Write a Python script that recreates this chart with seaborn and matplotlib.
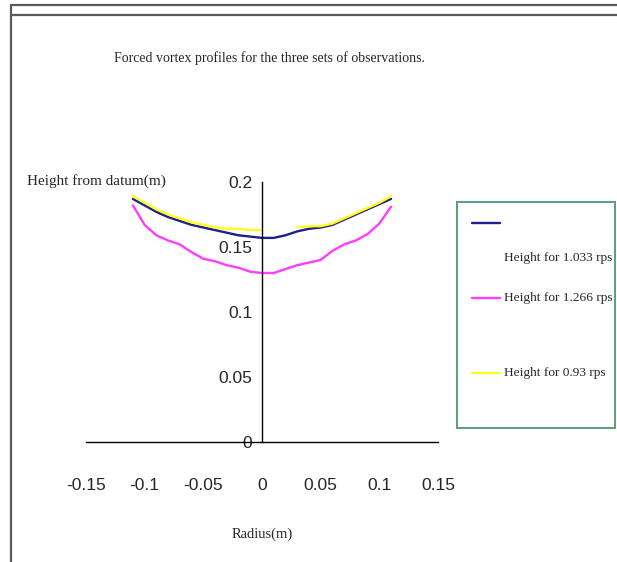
import numpy as np
import pandas as pd
import matplotlib
matplotlib.use("Agg")
import matplotlib.pyplot as plt
from matplotlib.lines import Line2D
from matplotlib.patches import Rectangle
from matplotlib import font_manager
import seaborn as sns

# Radial positions of the probe (m)
radius = [-0.11, -0.10, -0.09, -0.08, -0.07, -0.06, -0.05, -0.04, -0.03, -0.02, -0.01,
          0.00, 0.01, 0.02, 0.03, 0.04, 0.05, 0.06, 0.07, 0.08, 0.09, 0.10, 0.11]

# Water surface height from datum (m) for each rotation speed
height_1033 = [0.187, 0.182, 0.177, 0.173, 0.170, 0.167, 0.165, 0.163, 0.161, 0.159, 0.158,
               0.157, 0.157, 0.159, 0.162, 0.164, 0.165, 0.167, 0.171, 0.175, 0.179, 0.183, 0.187]
height_1266 = [0.182, 0.167, 0.159, 0.155, 0.152, 0.146, 0.141, 0.139, 0.136, 0.134, 0.131,
               0.130, 0.130, 0.133, 0.136, 0.138, 0.140, 0.147, 0.152, 0.155, 0.160, 0.168, 0.181]
height_093 = [0.189, 0.184, 0.179, 0.175, 0.172, 0.169, 0.167, 0.165, 0.164, 0.164, 0.163,
              0.163, np.nan, np.nan, 0.165, 0.166, 0.166, 0.168, 0.172, 0.176, 0.180, 0.184, 0.189]

series_labels = ["Height for 1.033 rps", "Height for 1.266 rps", "Height for 0.93 rps"]
series_colors = ["#1f1f8c", "#ff3dff", "#ffff1a"]

x_ticks = [-0.15, -0.10, -0.05, 0.0, 0.05, 0.10, 0.15]
x_tick_labels = ["-0.15", "-0.1", "-0.05", "0", "0.05", "0.1", "0.15"]
y_ticks = [0.0, 0.05, 0.10, 0.15, 0.20]
y_tick_labels = ["0", "0.05", "0.1", "0.15", "0.2"]

title_text = "Forced vortex profiles for the three sets of observations."
x_label = "Radius(m)"
y_label = "Height from datum(m)"


def first_font(candidates):
    for fam in candidates:
        try:
            font_manager.findfont(fam, fallback_to_default=False)
            return fam
        except ValueError:
            continue
    return "DejaVu Sans"


sns.set_style("white")
serif = first_font(["Liberation Serif", "DejaVu Serif"])
narrow = first_font(["Liberation Sans Narrow", "Liberation Sans", "DejaVu Sans"])
plt.rcParams["font.family"] = [serif, "DejaVu Serif"]

# Long-form table; missing readings split a series into separate segments
rows = []
for label, values in zip(series_labels, [height_1033, height_1266, height_093]):
    seg = 0
    for r, h in zip(radius, values):
        if h is None or np.isnan(h):
            seg += 1
            continue
        rows.append({"radius": r, "height": h, "series": label, "segment": f"{label}|{seg}"})
df = pd.DataFrame(rows)

fig = plt.figure(figsize=(6.17, 5.62), dpi=100)
ax = fig.add_axes([86 / 617, 1 - 442 / 562, 352 / 617, 260 / 562])

sns.lineplot(data=df, x="radius", y="height", hue="series", units="segment",
             estimator=None, hue_order=series_labels,
             palette=dict(zip(series_labels, series_colors)),
             linewidth=1.7, legend=False, ax=ax)

ax.set_xlim(-0.15, 0.15)
ax.set_ylim(0, 0.2)
ax.set_xlabel("")
ax.set_ylabel("")

# Axes cross at the origin
ax.spines["left"].set_position(("data", 0))
ax.spines["bottom"].set_position(("data", 0))
for side in ("top", "right"):
    ax.spines[side].set_visible(False)
for side in ("left", "bottom"):
    ax.spines[side].set_color("black")
    ax.spines[side].set_linewidth(1.0)

tick_size = 12.5 if narrow != "Liberation Sans Narrow" else 14
ax.set_xticks(x_ticks)
ax.set_xticklabels(x_tick_labels, fontfamily=narrow, fontsize=tick_size)
ax.set_yticks(y_ticks)
ax.set_yticklabels(y_tick_labels, fontfamily=narrow, fontsize=tick_size)
ax.tick_params(axis="x", direction="out", length=6, width=1.0, color="black", pad=20)
ax.tick_params(axis="y", direction="out", length=4, width=1.0, color="black", pad=3)

fig.text(269 / 617, 1 - 62 / 562, title_text, ha="center", va="baseline", fontsize=10)
fig.text(27 / 617, 1 - 185 / 562, y_label, ha="left", va="baseline", fontsize=11)
fig.text(262 / 617, 1 - 538 / 562, x_label, ha="center", va="baseline", fontsize=10.5)

# Legend panel
fig.add_artist(Rectangle((457 / 617, 1 - 428 / 562), 158 / 617, 226 / 562,
                         transform=fig.transFigure, facecolor="none",
                         edgecolor="#5a9f7c", linewidth=1.4))
legend_rows = [(223, 258), (298, 298), (373, 373)]
for (line_y, text_y), label, color in zip(legend_rows, series_labels, series_colors):
    fig.add_artist(Line2D([472 / 617, 500 / 617], [1 - line_y / 562, 1 - line_y / 562],
                          transform=fig.transFigure, color=color, linewidth=1.7))
    fig.text(504 / 617, 1 - text_y / 562, label, ha="left", va="center", fontsize=9.6)

# Page frame
frame_kw = dict(transform=fig.transFigure, color="#5a5a5a", linewidth=1.6)
fig.add_artist(Line2D([11 / 617, 1], [1 - 5 / 562, 1 - 5 / 562], **frame_kw))
fig.add_artist(Line2D([11 / 617, 1], [1 - 15 / 562, 1 - 15 / 562], **frame_kw))
fig.add_artist(Line2D([11 / 617, 11 / 617], [1 - 5 / 562, 0], **frame_kw))

fig.savefig("out.png", dpi=100, facecolor="white")
